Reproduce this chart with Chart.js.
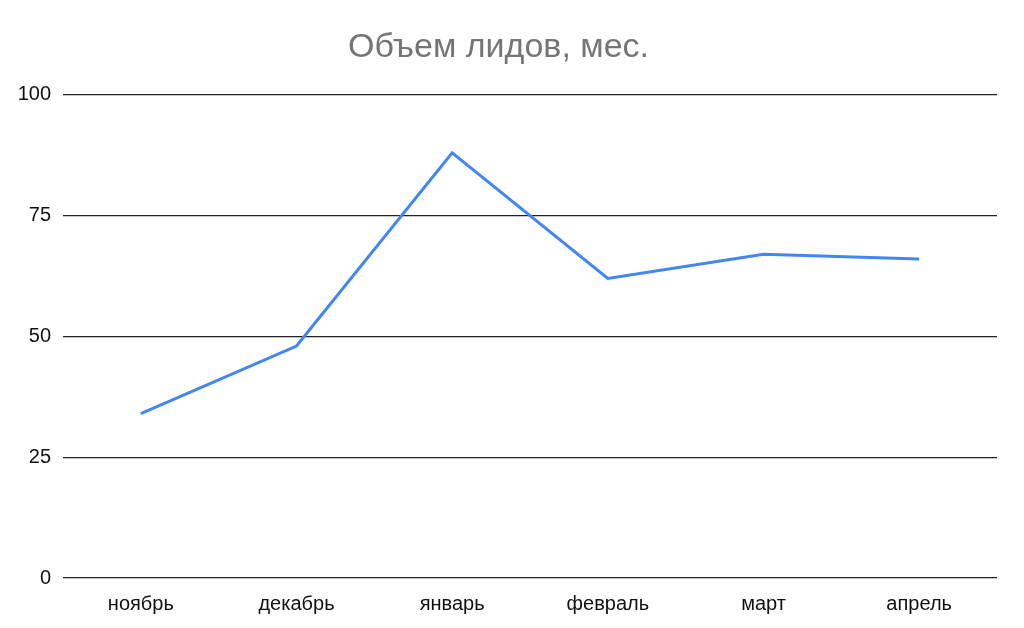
<!DOCTYPE html>
<html>
<head>
<meta charset="utf-8">
<script src="https://cdn.jsdelivr.net/npm/chart.js@4.4.1/dist/chart.umd.min.js"></script>
<style>
    html, body { margin: 0; padding: 0; background: #fff; }
    #wrap { width: 1024px; height: 628px; }
</style>
</head>
<body>
<div id="wrap"><canvas id="leadsChart"></canvas></div>
<script>
const months = ['ноябрь', 'декабрь', 'январь', 'февраль', 'март', 'апрель'];
const leads = [34, 48, 88, 62, 67, 66];
const yTicks = [0, 25, 50, 75, 100];

const ctx = document.getElementById('leadsChart').getContext('2d');
new Chart(ctx, {
    type: 'line',
    data: {
        labels: months,
        datasets: [{
            label: 'Объем лидов',
            data: leads,
            borderColor: '#4285F4',
            borderWidth: 3,
            pointRadius: 0,
            fill: false,
            tension: 0
        }]
    },
    options: {
        responsive: true,
        maintainAspectRatio: false,
        animation: false,
        layout: { padding: { left: 0, right: 27, top: 0, bottom: 0 } },
        plugins: {
            legend: { display: false },
            tooltip: { enabled: false },
            title: {
                display: true,
                text: 'Объем лидов, мес.',
                color: '#757575',
                font: { family: 'Liberation Sans', size: 34, weight: 'normal', lineHeight: 1.2 },
                padding: { top: 27, bottom: 27 }
            }
        },
        scales: {
            x: {
                offset: true,
                grid: { display: false },
                border: { display: false },
                ticks: { color: '#111', font: { family: 'Liberation Sans', size: 20 }, padding: 6, maxRotation: 0 },
                afterFit: s => { s.height = 50; }
            },
            y: {
                min: 0,
                max: 100,
                afterBuildTicks: s => { s.ticks = yTicks.map(v => ({ value: v })); },
                grid: { color: '#222', lineWidth: 1.3, drawTicks: false },
                border: { display: false },
                ticks: { color: '#111', font: { family: 'Liberation Sans', size: 20 }, padding: 12 },
                afterFit: s => { s.width = 63; }
            }
        }
    }
});
</script>
</body>
</html>
